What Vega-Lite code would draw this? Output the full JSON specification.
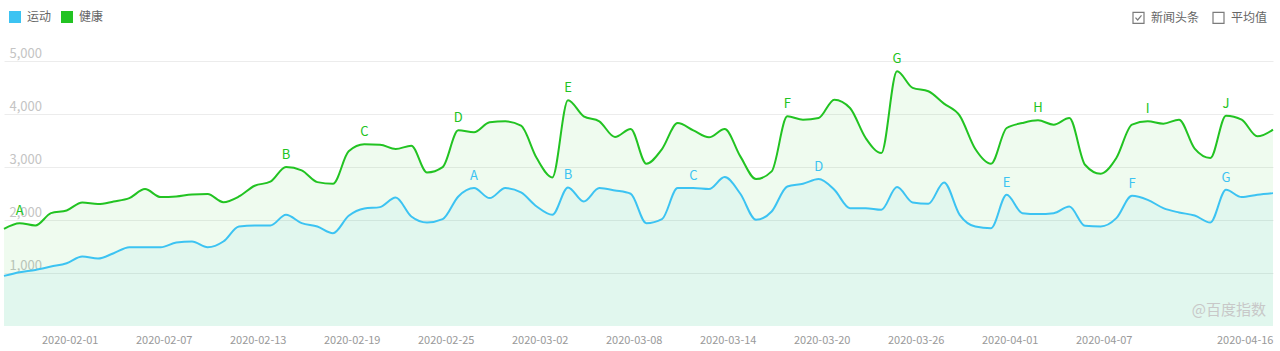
{
  "$schema": "https://vega.github.io/schema/vega-lite/v6.json",
  "width": 1269,
  "height": 265,
  "autosize": {"type": "none"},
  "padding": {"left": 4, "top": 61, "right": 7, "bottom": 25},
  "background": "white",
  "config": {"view": {"stroke": null}, "font": "Noto Sans CJK SC"},
  "datasets": {
    "series": [
      {"d":"2020-01-28","s":"运动","v":945},{"d":"2020-01-29","s":"运动","v":1014},{"d":"2020-01-30","s":"运动","v":1058},{"d":"2020-01-31","s":"运动","v":1121},
      {"d":"2020-02-01","s":"运动","v":1184},{"d":"2020-02-02","s":"运动","v":1310},{"d":"2020-02-03","s":"运动","v":1273},{"d":"2020-02-04","s":"运动","v":1373},
      {"d":"2020-02-05","s":"运动","v":1487},{"d":"2020-02-06","s":"运动","v":1487},{"d":"2020-02-07","s":"运动","v":1487},{"d":"2020-02-08","s":"运动","v":1575},
      {"d":"2020-02-09","s":"运动","v":1594},{"d":"2020-02-10","s":"运动","v":1487},{"d":"2020-02-11","s":"运动","v":1594},{"d":"2020-02-12","s":"运动","v":1877},
      {"d":"2020-02-13","s":"运动","v":1896},{"d":"2020-02-14","s":"运动","v":1896},{"d":"2020-02-15","s":"运动","v":2098},{"d":"2020-02-16","s":"运动","v":1940},
      {"d":"2020-02-17","s":"运动","v":1877},{"d":"2020-02-18","s":"运动","v":1751},{"d":"2020-02-19","s":"运动","v":2079},{"d":"2020-02-20","s":"运动","v":2218},
      {"d":"2020-02-21","s":"运动","v":2243},{"d":"2020-02-22","s":"运动","v":2425},{"d":"2020-02-23","s":"运动","v":2066},{"d":"2020-02-24","s":"运动","v":1953},
      {"d":"2020-02-25","s":"运动","v":2016},{"d":"2020-02-26","s":"运动","v":2444},{"d":"2020-02-27","s":"运动","v":2602,"l":"A"},{"d":"2020-02-28","s":"运动","v":2413},
      {"d":"2020-02-29","s":"运动","v":2602},{"d":"2020-03-01","s":"运动","v":2520},{"d":"2020-03-02","s":"运动","v":2255},{"d":"2020-03-03","s":"运动","v":2098},
      {"d":"2020-03-04","s":"运动","v":2615,"l":"B"},{"d":"2020-03-05","s":"运动","v":2350},{"d":"2020-03-06","s":"运动","v":2602},{"d":"2020-03-07","s":"运动","v":2558},
      {"d":"2020-03-08","s":"运动","v":2495},{"d":"2020-03-09","s":"运动","v":1940},{"d":"2020-03-10","s":"运动","v":2016},{"d":"2020-03-11","s":"运动","v":2602},
      {"d":"2020-03-12","s":"运动","v":2602,"l":"C"},{"d":"2020-03-13","s":"运动","v":2583},{"d":"2020-03-14","s":"运动","v":2810},{"d":"2020-03-15","s":"运动","v":2495},
      {"d":"2020-03-16","s":"运动","v":2003},{"d":"2020-03-17","s":"运动","v":2161},{"d":"2020-03-18","s":"运动","v":2633},{"d":"2020-03-19","s":"运动","v":2684},
      {"d":"2020-03-20","s":"运动","v":2772,"l":"D"},{"d":"2020-03-21","s":"运动","v":2570},{"d":"2020-03-22","s":"运动","v":2224},{"d":"2020-03-23","s":"运动","v":2224},
      {"d":"2020-03-24","s":"运动","v":2192},{"d":"2020-03-25","s":"运动","v":2621},{"d":"2020-03-26","s":"运动","v":2331},{"d":"2020-03-27","s":"运动","v":2306},
      {"d":"2020-03-28","s":"运动","v":2709},{"d":"2020-03-29","s":"运动","v":2098},{"d":"2020-03-30","s":"运动","v":1877},{"d":"2020-03-31","s":"运动","v":1846},
      {"d":"2020-04-01","s":"运动","v":2476,"l":"E"},{"d":"2020-04-02","s":"运动","v":2129},{"d":"2020-04-03","s":"运动","v":2111},{"d":"2020-04-04","s":"运动","v":2129},
      {"d":"2020-04-05","s":"运动","v":2255},{"d":"2020-04-06","s":"运动","v":1890},{"d":"2020-04-07","s":"运动","v":1877},{"d":"2020-04-08","s":"运动","v":2035},
      {"d":"2020-04-09","s":"运动","v":2457,"l":"F"},{"d":"2020-04-10","s":"运动","v":2381},{"d":"2020-04-11","s":"运动","v":2224},{"d":"2020-04-12","s":"运动","v":2142},
      {"d":"2020-04-13","s":"运动","v":2085},{"d":"2020-04-14","s":"运动","v":1953},{"d":"2020-04-15","s":"运动","v":2570,"l":"G"},{"d":"2020-04-16","s":"运动","v":2432},
      {"d":"2020-04-17","s":"运动","v":2476},{"d":"2020-04-18","s":"运动","v":2507},

      {"d":"2020-01-28","s":"健康","v":1833},{"d":"2020-01-29","s":"健康","v":1940,"l":"A"},{"d":"2020-01-30","s":"健康","v":1896},{"d":"2020-01-31","s":"健康","v":2129},
      {"d":"2020-02-01","s":"健康","v":2180},{"d":"2020-02-02","s":"健康","v":2331},{"d":"2020-02-03","s":"健康","v":2300},{"d":"2020-02-04","s":"健康","v":2350},
      {"d":"2020-02-05","s":"健康","v":2413},{"d":"2020-02-06","s":"健康","v":2583},{"d":"2020-02-07","s":"健康","v":2432},{"d":"2020-02-08","s":"健康","v":2444},
      {"d":"2020-02-09","s":"健康","v":2482},{"d":"2020-02-10","s":"健康","v":2489},{"d":"2020-02-11","s":"健康","v":2337},{"d":"2020-02-12","s":"健康","v":2444},
      {"d":"2020-02-13","s":"健康","v":2646},{"d":"2020-02-14","s":"健康","v":2722},{"d":"2020-02-15","s":"健康","v":2999,"l":"B"},{"d":"2020-02-16","s":"健康","v":2936},
      {"d":"2020-02-17","s":"健康","v":2715},{"d":"2020-02-18","s":"健康","v":2684},{"d":"2020-02-19","s":"健康","v":3295},{"d":"2020-02-20","s":"健康","v":3427,"l":"C"},
      {"d":"2020-02-21","s":"健康","v":3421},{"d":"2020-02-22","s":"健康","v":3339},{"d":"2020-02-23","s":"健康","v":3402},{"d":"2020-02-24","s":"健康","v":2898},
      {"d":"2020-02-25","s":"健康","v":2999},{"d":"2020-02-26","s":"健康","v":3692,"l":"D"},{"d":"2020-02-27","s":"健康","v":3654},{"d":"2020-02-28","s":"健康","v":3843},
      {"d":"2020-02-29","s":"健康","v":3862},{"d":"2020-03-01","s":"健康","v":3780},{"d":"2020-03-02","s":"健康","v":3169},{"d":"2020-03-03","s":"健康","v":2804},
      {"d":"2020-03-04","s":"健康","v":4259,"l":"E"},{"d":"2020-03-05","s":"健康","v":3956},{"d":"2020-03-06","s":"健康","v":3862},{"d":"2020-03-07","s":"健康","v":3566},
      {"d":"2020-03-08","s":"健康","v":3717},{"d":"2020-03-09","s":"健康","v":3062},{"d":"2020-03-10","s":"健康","v":3339},{"d":"2020-03-11","s":"健康","v":3830},
      {"d":"2020-03-12","s":"健康","v":3692},{"d":"2020-03-13","s":"健康","v":3560},{"d":"2020-03-14","s":"健康","v":3717},{"d":"2020-03-15","s":"健康","v":3200},
      {"d":"2020-03-16","s":"健康","v":2772},{"d":"2020-03-17","s":"健康","v":2917},{"d":"2020-03-18","s":"健康","v":3956,"l":"F"},{"d":"2020-03-19","s":"健康","v":3893},
      {"d":"2020-03-20","s":"健康","v":3925},{"d":"2020-03-21","s":"健康","v":4271},{"d":"2020-03-22","s":"健康","v":4114},{"d":"2020-03-23","s":"健康","v":3547},
      {"d":"2020-03-24","s":"健康","v":3263},{"d":"2020-03-25","s":"健康","v":4807,"l":"G"},{"d":"2020-03-26","s":"健康","v":4492},{"d":"2020-03-27","s":"健康","v":4429},
      {"d":"2020-03-28","s":"健康","v":4196},{"d":"2020-03-29","s":"健康","v":3969},{"d":"2020-03-30","s":"健康","v":3339},{"d":"2020-03-31","s":"健康","v":3062},
      {"d":"2020-04-01","s":"健康","v":3736},{"d":"2020-04-02","s":"健康","v":3830},{"d":"2020-04-03","s":"健康","v":3881,"l":"H"},{"d":"2020-04-04","s":"健康","v":3799},
      {"d":"2020-04-05","s":"健康","v":3925},{"d":"2020-04-06","s":"健康","v":3043},{"d":"2020-04-07","s":"健康","v":2873},{"d":"2020-04-08","s":"健康","v":3169},
      {"d":"2020-04-09","s":"健康","v":3799},{"d":"2020-04-10","s":"健康","v":3862,"l":"I"},{"d":"2020-04-11","s":"健康","v":3818},{"d":"2020-04-12","s":"健康","v":3893},
      {"d":"2020-04-13","s":"健康","v":3345},{"d":"2020-04-14","s":"健康","v":3169},{"d":"2020-04-15","s":"健康","v":3969,"l":"J"},{"d":"2020-04-16","s":"健康","v":3893},
      {"d":"2020-04-17","s":"健康","v":3578},{"d":"2020-04-18","s":"健康","v":3704}
    ],
    "toggles": [{"opt": "新闻头条"}, {"opt": "平均值"}],
    "mark": [{"d": "2020-04-18", "v": 0, "t": "@百度指数"}]
  },
  "encoding": {
    "x": {"field": "d", "type": "ordinal", "scale": {"type": "point", "padding": 0},
      "axis": {"values": ["2020-02-01","2020-02-07","2020-02-13","2020-02-19","2020-02-25","2020-03-02","2020-03-08","2020-03-14","2020-03-20","2020-03-26","2020-04-01","2020-04-07","2020-04-16"],
        "title": null, "grid": false, "domain": false, "ticks": false, "labelAngle": 0, "labelOverlap": false, "labelFlush": false,
        "labelColor": "#999999", "labelFontSize": 11, "labelPadding": 8, "labelOffset": 3}},
    "y": {"field": "v", "type": "quantitative", "stack": null, "scale": {"domain": [0, 5000], "nice": false},
      "axis": {"values": [1000, 2000, 3000, 4000, 5000], "format": ",.0f", "title": null, "grid": true, "gridColor": "#ececec",
        "domain": false, "ticks": false, "tickSize": 0, "labelAlign": "left", "labelBaseline": "bottom", "labelPadding": -5, "labelOffset": -1,
        "labelColor": "#c4c4c4", "labelFontSize": 13}},
    "color": {"field": "s", "type": "nominal", "scale": {"domain": ["运动", "健康"], "range": ["#3cc3f2", "#22c322"]},
      "legend": {"title": null, "orient": "none", "legendX": 5, "legendY": -50, "direction": "horizontal", "padding": 0,
        "symbolType": "square", "symbolSize": 144, "symbolStrokeWidth": 0, "labelFontSize": 12, "labelColor": "#666666",
        "labelOffset": 6, "columnPadding": 9,
        "encode": {"symbols": {"update": {"fill": {"scale": "color", "field": "value"}, "opacity": {"value": 1}, "fillOpacity": {"value": 1}, "strokeWidth": {"value": 0}}}}}}
  },
  "layer": [
    {
      "data": {"name": "series"},
      "mark": {"type": "area", "interpolate": "monotone", "fillOpacity": 0.075}
    },
    {
      "data": {"name": "series"},
      "mark": {"type": "line", "interpolate": "monotone", "strokeWidth": 2}
    },
    {
      "data": {"name": "series"},
      "transform": [{"filter": "isValid(datum.l)"}],
      "mark": {"type": "text", "dy": -12, "fontSize": 13, "baseline": "middle"},
      "encoding": {"text": {"field": "l"}}
    },
    {
      "data": {"name": "mark"},
      "mark": {"type": "text", "align": "right", "baseline": "middle", "dx": -7, "dy": -16, "fontSize": 15},
      "encoding": {"text": {"field": "t"}, "color": {"value": "#c8c8c8"}}
    },
    {
      "data": {"name": "toggles"},
      "transform": [{"filter": "datum.opt == 'none'"}],
      "mark": {"type": "point", "filled": false, "strokeWidth": 1},
      "encoding": {
        "color": {"value": "#444444"},
        "shape": {"field": "opt", "type": "nominal",
          "scale": {"domain": ["新闻头条", "平均值"], "range": ["M-1,-1L1,-1L1,1L-1,1Z M-0.55,-0.05L-0.15,0.4L0.55,-0.45", "M-1,-1L1,-1L1,1L-1,1Z"]},
          "legend": {"title": null, "orient": "none", "legendX": 1128, "legendY": -50, "direction": "horizontal", "padding": 0,
            "symbolSize": 121, "symbolStrokeColor": "#444444", "symbolStrokeWidth": 1.2, "symbolFillColor": "transparent",
            "labelFontSize": 12, "labelColor": "#666666", "labelOffset": 6, "columnPadding": 10}}
      }
    }
  ]
}
